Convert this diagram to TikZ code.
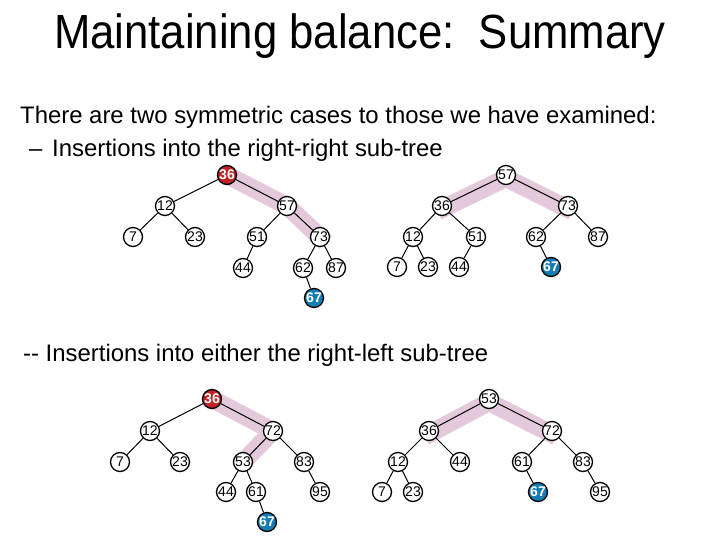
\documentclass[tikz,border=0pt]{standalone}
\usepackage{fontspec}
\setmainfont{Liberation Sans}
\usetikzlibrary{backgrounds}
\definecolor{hl}{RGB}{228,200,220}
\definecolor{redn}{RGB}{190,35,38}
\definecolor{bluen}{RGB}{22,125,180}
\tikzset{
  tn/.style={circle,draw=black,line width=1.3pt,fill=white,minimum size=19pt,inner sep=0pt,
    font=\fontsize{14}{14}\selectfont},
  rn/.style={tn,fill=redn,text=white,font=\fontsize{14}{14}\selectfont\bfseries},
  bn/.style={tn,fill=bluen,text=white,font=\fontsize{14}{14}\selectfont\bfseries},
  ed/.style={line width=1pt,black},
  band/.style={line width=18pt,hl,line join=round},
  txt/.style={anchor=base west,inner sep=0pt,font=\fontsize{23.9}{24}\selectfont}
}
\begin{document}
\begin{tikzpicture}[x=1pt,y=-1pt]
\useasboundingbox (0,0) rectangle (720,540);
% title and text
\node[anchor=base,inner sep=0pt,xscale=0.91,font=\fontsize{48}{48}\selectfont] (title) at (360,49) {Maintaining balance:\ \ Summary};
\node[txt] (l1) at (20,124) {There are two symmetric cases to those we have examined:};
\node[txt] (l2a) at (29,157) {–};
\node[txt] (l2) at (52,157) {Insertions into the right-right sub-tree};
\node[txt] (l3) at (23,361) {{-}{-} Insertions into either the right-left sub-tree};

% ---------- tree 1 ----------
\node[rn] (a36) at (227,175) {36};
\node[tn] (a12) at (165,206) {12};
\node[tn] (a57) at (287,206) {57};
\node[tn] (a7) at (133,237) {7};
\node[tn] (a23) at (195,237) {23};
\node[tn] (a51) at (257,237) {51};
\node[tn] (a73) at (320,237) {73};
\node[tn] (a44) at (243,268) {44};
\node[tn] (a62) at (303,268) {62};
\node[tn] (a87) at (336,268) {87};
\node[bn] (a67) at (314,298) {67};
\begin{scope}[on background layer]
\draw[band,shorten <=-6pt,shorten >=-8pt] (a36.center) -- (a57.center) -- (a73.center);
\end{scope}
\draw[ed] (a36)--(a12) (a36)--(a57) (a12)--(a7) (a12)--(a23) (a57)--(a51) (a57)--(a73)
  (a51)--(a44) (a73)--(a62) (a73)--(a87) (a62)--(a67);

% ---------- tree 2 ----------
\node[tn] (b57) at (506,175) {57};
\node[tn] (b36) at (442,206) {36};
\node[tn] (b73) at (568,206) {73};
\node[tn] (b12) at (413,237) {12};
\node[tn] (b51) at (476,237) {51};
\node[tn] (b62) at (536,237) {62};
\node[tn] (b87) at (598,237) {87};
\node[tn] (b7) at (397,267) {7};
\node[tn] (b23) at (428,267) {23};
\node[tn] (b44) at (459,267) {44};
\node[bn] (b67) at (551,267) {67};
\begin{scope}[on background layer]
\draw[band,shorten <=-5pt,shorten >=-5pt] ([yshift=-3pt]b36.center) -- ([yshift=-3pt]b57.center) -- ([yshift=-3pt]b73.center);
\end{scope}
\draw[ed] (b57)--(b36) (b57)--(b73) (b36)--(b12) (b36)--(b51) (b73)--(b62) (b73)--(b87)
  (b12)--(b7) (b12)--(b23) (b51)--(b44) (b62)--(b67);

% ---------- tree 3 ----------
\node[rn] (c36) at (212,399) {36};
\node[tn] (c12) at (150,431) {12};
\node[tn] (c72) at (273,431) {72};
\node[tn] (c7) at (120,462) {7};
\node[tn] (c23) at (180,462) {23};
\node[tn] (c53) at (243,462) {53};
\node[tn] (c83) at (304,462) {83};
\node[tn] (c44) at (226,492) {44};
\node[tn] (c61) at (256,492) {61};
\node[tn] (c95) at (320,492) {95};
\node[bn] (c67) at (267,522) {67};
\begin{scope}[on background layer]
\draw[band,shorten <=-6pt,shorten >=-6pt] (c36.center) -- (c72.center) -- (c53.center);
\end{scope}
\draw[ed] (c36)--(c12) (c36)--(c72) (c12)--(c7) (c12)--(c23) (c72)--(c53) (c72)--(c83)
  (c53)--(c44) (c53)--(c61) (c83)--(c95) (c61)--(c67);

% ---------- tree 4 ----------
\node[tn] (d53) at (489,399) {53};
\node[tn] (d36) at (429,431) {36};
\node[tn] (d72) at (552,431) {72};
\node[tn] (d12) at (398,462) {12};
\node[tn] (d44) at (460,462) {44};
\node[tn] (d61) at (522,462) {61};
\node[tn] (d83) at (583,462) {83};
\node[tn] (d7) at (382,492) {7};
\node[tn] (d23) at (413,492) {23};
\node[bn] (d67) at (538,492) {67};
\node[tn] (d95) at (600,492) {95};
\begin{scope}[on background layer]
\draw[band,shorten <=-5pt,shorten >=-5pt] ([yshift=-3pt]d36.center) -- ([yshift=-3pt]d53.center) -- ([yshift=-3pt]d72.center);
\end{scope}
\draw[ed] (d53)--(d36) (d53)--(d72) (d36)--(d12) (d36)--(d44) (d72)--(d61) (d72)--(d83)
  (d12)--(d7) (d12)--(d23) (d61)--(d67) (d83)--(d95);
\end{tikzpicture}
\end{document}
